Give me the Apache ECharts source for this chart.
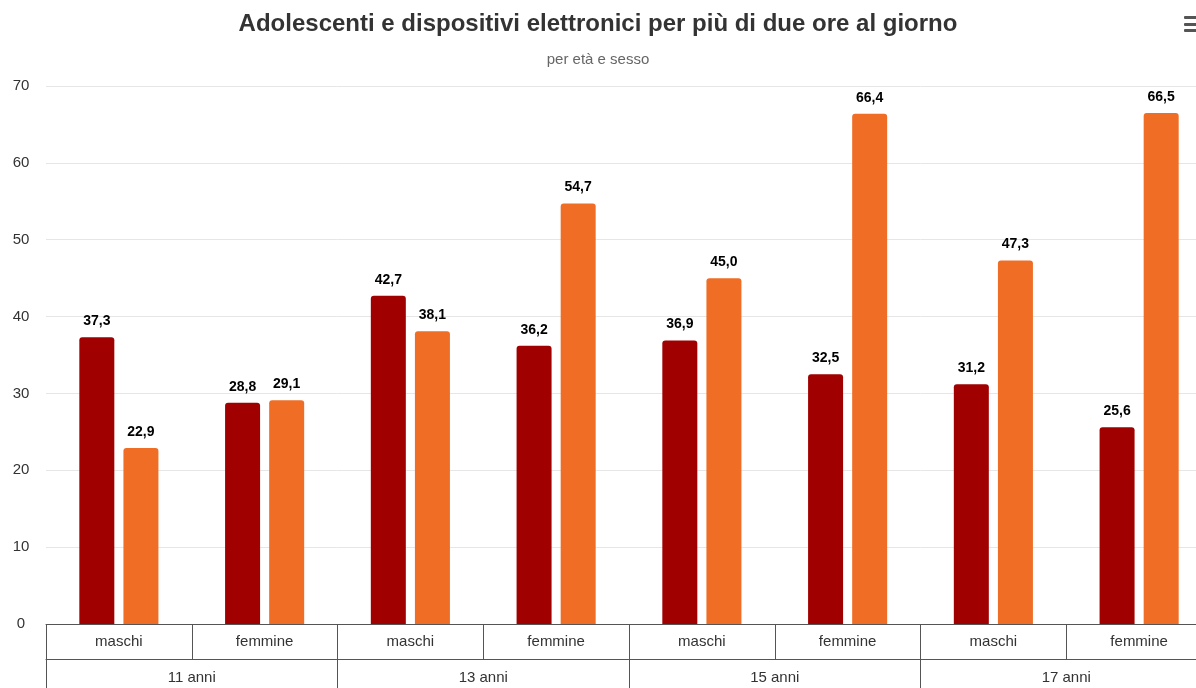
<!DOCTYPE html>
<html>
<head>
<meta charset="utf-8">
<script src="https://cdn.jsdelivr.net/npm/echarts@6/dist/echarts.min.js"></script>
<style>
html, body { margin: 0; padding: 0; background: #fff; overflow: hidden; }
#chart { width: 1212px; height: 688px; }
</style>
</head>
<body>
<div id="chart"></div>
<script>
var sexLabels = ['maschi', 'femmine', 'maschi', 'femmine', 'maschi', 'femmine', 'maschi', 'femmine'];
var ageGroups = ['11 anni', '13 anni', '15 anni', '17 anni'];
var darkValues = [37.3, 28.8, 42.7, 36.2, 36.9, 32.5, 31.2, 25.6];
var orangeValues = [22.9, 29.1, 38.1, 54.7, 45.0, 66.4, 47.3, 66.5];
var yTicks = [0, 10, 20, 30, 40, 50, 60, 70];

// chart is wider than the window: the right edge is cut off as in the original
var chart = echarts.init(document.getElementById('chart'), null, { renderer: 'canvas' });

var fmt = function (p) {
    return p.value.toFixed(1).replace('.', ',');
};

var barLabel = {
    show: true,
    position: 'top',
    distance: 9,
    fontSize: 14,
    fontWeight: 'bold',
    color: '#000',
    fontFamily: 'Liberation Sans',
    formatter: fmt
};

var option = {
    animation: false,
    title: {
        text: 'Adolescenti e dispositivi elettronici per più di due ore al giorno',
        subtext: 'per età e sesso',
        left: 593,
        textAlign: 'center',
        top: 7,
        itemGap: 16,
        textStyle: { fontFamily: 'Liberation Sans', fontSize: 24, fontWeight: 'bold', color: '#333' },
        subtextStyle: { fontFamily: 'Liberation Sans', fontSize: 15, color: '#666' }
    },
    grid: { left: 46, top: 86, right: 0, bottom: 64 },
    xAxis: [
        {
            type: 'category',
            data: sexLabels,
            position: 'bottom',
            axisLine: { lineStyle: { color: '#555', width: 1 } },
            axisTick: { show: true, length: 35, lineStyle: { color: '#555' } },
            axisLabel: { margin: 10, fontSize: 15, color: '#333', fontFamily: 'Liberation Sans' }
        },
        {
            type: 'category',
            data: ageGroups,
            position: 'bottom',
            offset: 35,
            axisLine: { lineStyle: { color: '#555', width: 1 } },
            axisTick: { show: true, length: 40, lineStyle: { color: '#555' } },
            axisLabel: { margin: 11, fontSize: 15, color: '#333', fontFamily: 'Liberation Sans' }
        }
    ],
    yAxis: {
        type: 'value',
        min: yTicks[0],
        max: yTicks[yTicks.length - 1],
        interval: 10,
        axisLine: { show: false },
        axisTick: { show: false },
        axisLabel: { margin: 25, align: 'center', fontSize: 15, color: '#333', fontFamily: 'Liberation Sans' },
        splitLine: { lineStyle: { color: '#e6e6e6' } }
    },
    series: [
        {
            name: 'dark',
            type: 'bar',
            data: darkValues,
            barWidth: 35,
            barGap: '26%',
            itemStyle: { color: '#a10000', borderRadius: [3, 3, 0, 0] },
            label: barLabel
        },
        {
            name: 'orange',
            type: 'bar',
            data: orangeValues,
            barWidth: 35,
            itemStyle: { color: '#ef6d25', borderRadius: [3, 3, 0, 0] },
            label: barLabel
        }
    ],
    graphic: [
        { type: 'rect', shape: { x: 1184, y: 16, width: 14, height: 3, r: 1 }, style: { fill: '#555' } },
        { type: 'rect', shape: { x: 1184, y: 23, width: 14, height: 3, r: 1 }, style: { fill: '#555' } },
        { type: 'rect', shape: { x: 1184, y: 29, width: 14, height: 3, r: 1 }, style: { fill: '#555' } }
    ]
};

chart.setOption(option);
</script>
</body>
</html>
